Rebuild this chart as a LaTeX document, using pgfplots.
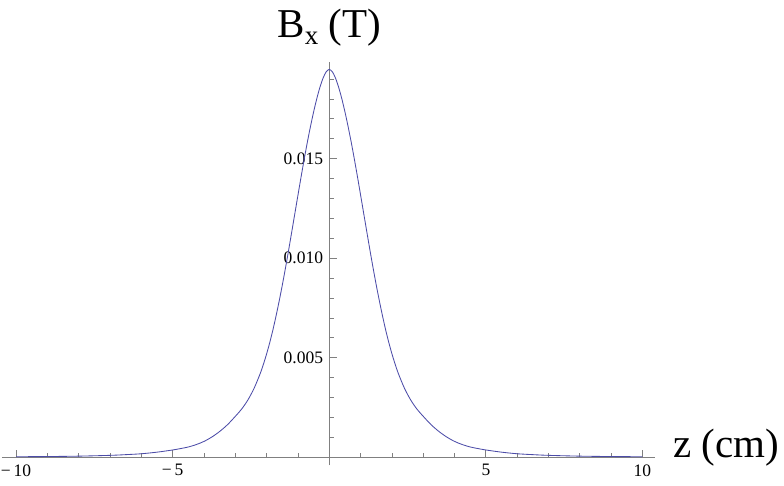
\documentclass[border=0pt]{standalone}
\usepackage{pgfplots}
\pgfplotsset{compat=1.18}
\usepackage{fontspec}
\setmainfont{Liberation Serif}
\definecolor{curve}{rgb}{0.30,0.30,0.66}
\definecolor{axgray}{rgb}{0.5,0.5,0.5}
\pgfplotstableread{
z B
-10 0.00003
-9 0.00004
-8 0.00006
-7 0.00010
-6.5 0.000135
-6 0.00018
-5.5 0.00026
-5 0.00037
-4.75 0.00044
-4.5 0.00052
-4.25 0.00064
-4 0.00080
-3.75 0.00102
-3.5 0.00130
-3.25 0.00164
-3 0.00206
-2.8 0.00242
-2.6 0.00288
-2.4 0.00347
-2.2 0.00423
-2.1 0.00469
-2 0.00520
-1.9 0.00577
-1.8 0.00640
-1.7 0.00710
-1.6 0.00785
-1.5 0.00865
-1.4 0.00950
-1.3 0.01039
-1.2 0.01131
-1.1 0.01224
-1 0.01317
-0.9 0.01409
-0.8 0.01498
-0.7 0.01583
-0.6 0.01662
-0.5 0.01735
-0.4 0.01801
-0.3 0.01858
-0.2 0.01904
-0.1 0.01936
0 0.01948
0.1 0.01936
0.2 0.01904
0.3 0.01858
0.4 0.01801
0.5 0.01735
0.6 0.01662
0.7 0.01583
0.8 0.01498
0.9 0.01409
1 0.01317
1.1 0.01224
1.2 0.01131
1.3 0.01039
1.4 0.00950
1.5 0.00865
1.6 0.00785
1.7 0.00710
1.8 0.00640
1.9 0.00577
2 0.00520
2.1 0.00469
2.2 0.00423
2.4 0.00347
2.6 0.00288
2.8 0.00242
3 0.00206
3.25 0.00164
3.5 0.00130
3.75 0.00102
4 0.00080
4.25 0.00064
4.5 0.00052
4.75 0.00044
5 0.00037
5.5 0.00026
6 0.00018
6.5 0.000135
7 0.00010
8 0.00006
9 0.00004
10 0.00003
}\datatab
\begin{document}
\begin{tikzpicture}
\useasboundingbox (-2pt,-19.7pt) rectangle (782pt,465.3pt);
\begin{axis}[
  at={(0,0)}, anchor=south west,
  scale only axis,
  width=653pt, height=403pt,
  xmin=-10.45, xmax=10.40,
  ymin=-0.0004, ymax=0.01984,
  axis lines=middle,
  axis line style={-, axgray, line width=0.9pt},
  tick style={axgray, line width=0.8pt},
  tick align=inside,
  major tick length=7.5pt,
  minor tick length=4.5pt,
  xtick={-10,-5,5,10},
  xticklabels={−\,10,−\,5,5,10},
  minor xtick={-9,-8,-7,-6,-4,-3,-2,-1,1,2,3,4,6,7,8,9},
  ytick={0.005,0.010,0.015},
  yticklabels={0.005,0.010,0.015},
  minor ytick={0.001,0.002,0.003,0.004,0.006,0.007,0.008,0.009,0.011,0.012,0.013,0.014,0.016,0.017,0.018,0.019},
  scaled y ticks=false,
  tick label style={font=\fontsize{17.5}{18}\selectfont, text=black},
  xticklabel style={anchor=north, inner sep=0pt, yshift=-7pt},
  yticklabel style={anchor=east, inner sep=0pt, xshift=-6pt},
  xlabel={z (cm)},
  ylabel={B\raisebox{-0.18em}{\fontsize{27}{27}\selectfont x} (T)},
  label style={font=\fontsize{41}{41}\selectfont},
  xlabel style={at={(axis description cs:1,0.01976)}, anchor=base west, inner sep=0pt, xshift=18pt},
  ylabel style={at={(axis description cs:0.5012,1)}, anchor=base, inner sep=0pt, yshift=25pt, rotate=0},
]
\addplot[curve, line width=0.85pt, smooth, tension=0.5] table[x=z, y=B] {\datatab};
\end{axis}
\end{tikzpicture}
\end{document}
